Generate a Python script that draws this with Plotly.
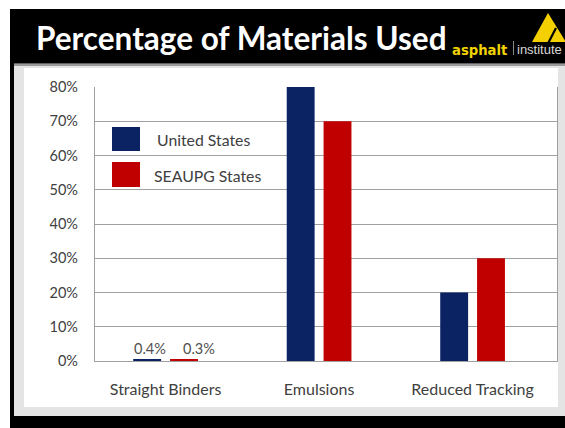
import plotly.graph_objects as go

categories = ["Straight Binders", "Emulsions", "Reduced Tracking"]
us_values = [0.4, 80, 20]
seaupg_values = [0.3, 70, 30]
series_names = ["United States", "SEAUPG States"]
tick_vals = [0, 10, 20, 30, 40, 50, 60, 70, 80]
tick_text = [f"{v}%" for v in tick_vals]
label_category = "Straight Binders"

NAVY = "#0b2362"
RED = "#c00000"
W, H = 565, 428
L, R, T, B = 95, 8, 87, 67
PW, PH = W - L - R, H - T - B


def px(x):
    return (x - L) / PW


def py(y):
    return (H - B - y) / PH


def rect(x0, y0, x1, y1, color, layer="below", line=None):
    return dict(type="rect", xref="paper", yref="paper",
                x0=px(x0), x1=px(x1), y0=py(y1), y1=py(y0),
                fillcolor=color, line=line or dict(width=0), layer=layer)


fig = go.Figure()
fig.add_trace(go.Bar(x=categories, y=us_values, name=series_names[0],
                     marker=dict(color=NAVY, line=dict(width=0)), showlegend=False))
fig.add_trace(go.Bar(x=categories, y=seaupg_values, name=series_names[1],
                     marker=dict(color=RED, line=dict(width=0)), showlegend=False))

shapes = [
    rect(10, 9, 565, 63.5, "black", layer="above"),
    rect(14, 63.5, 565, 416, "#e4e4e4"),
    rect(14, 63.5, 565, 66, "#9a9a9a"),
    rect(24, 68, 558, 407, "white"),
    rect(10, 63, 14, 416, "black", layer="above"),
    rect(10, 416, 565, 428, "black", layer="above"),
    # legend swatches
    rect(112, 127, 140, 151, NAVY, layer="above"),
    rect(112, 162, 140, 187, RED, layer="above"),
    # logo
    dict(type="path", xref="paper", yref="paper",
         path=f"M {px(532)},{py(42)} L {px(548)},{py(13)} L {px(566)},{py(42)} Z",
         fillcolor="#f5d000", line=dict(width=0), layer="above"),
    dict(type="line", xref="paper", yref="paper",
         x0=px(556), y0=py(28), x1=px(548.5), y1=py(42.5),
         line=dict(color="black", width=2.2), layer="above"),
    dict(type="line", xref="paper", yref="paper",
         x0=px(513.5), y0=py(41), x1=px(513.5), y1=py(55),
         line=dict(color="#8a8a8a", width=1), layer="above"),
]

annotations = [
    dict(xref="paper", yref="paper", x=px(34), y=py(38), xanchor="left", yanchor="middle",
         text="Percentage of Materials Used", showarrow=False,
         font=dict(family="Lato", size=31.5, color="white", weight="bold")),
    dict(xref="paper", yref="paper", x=px(450), y=py(51), xanchor="left", yanchor="middle",
         text="<b>asphalt</b>", showarrow=False,
         font=dict(family="DejaVu Sans", size=13.2, color="#f2d200")),
    dict(xref="paper", yref="paper", x=px(515), y=py(49), xanchor="left", yanchor="middle",
         text="institute", showarrow=False,
         font=dict(family="Liberation Sans", size=13, color="#d8d8d8")),
    dict(xref="paper", yref="paper", x=px(155), y=py(139), xanchor="left", yanchor="middle",
         text=series_names[0], showarrow=False,
         font=dict(family="Lato", size=15.8, color="#404040")),
    dict(xref="paper", yref="paper", x=px(152), y=py(175), xanchor="left", yanchor="middle",
         text=series_names[1], showarrow=False,
         font=dict(family="Lato", size=15.8, color="#404040")),
]

idx = categories.index(label_category)
for vals, shift in ((us_values, -16), (seaupg_values, 33)):
    annotations.append(dict(x=label_category, y=vals[idx], xref="x", yref="y",
                            text=f"{vals[idx]}%", showarrow=False, yanchor="bottom",
                            xshift=shift, yshift=1,
                            font=dict(family="Lato", size=14.5, color="#505050")))

fig.update_layout(
    width=W, height=H,
    margin=dict(l=L, r=R, t=T, b=B, pad=0),
    paper_bgcolor="white",
    plot_bgcolor="rgba(0,0,0,0)",
    barmode="group",
    bargap=0.52,
    bargroupgap=0.243,
    shapes=shapes,
    annotations=annotations,
    showlegend=False,
    font=dict(family="Lato", color="#404040"),
)
fig.update_xaxes(range=[-0.46, 2.55], showgrid=False, showline=True, linecolor="#a0a0a0",
                 linewidth=1.3, ticks="", ticklabelstandoff=14,
                 tickfont=dict(family="Lato", size=16, color="#404040"))
fig.update_yaxes(range=[0, 80], tickvals=tick_vals, ticktext=tick_text, showgrid=True,
                 gridcolor="#a0a0a0", gridwidth=1.3, showline=True, linecolor="#a0a0a0",
                 linewidth=1.3, mirror=True, zeroline=False, ticks="", ticklabelstandoff=13,
                 tickfont=dict(family="Lato", size=14.5, color="#404040"))

fig.write_html("out.html", config={"displayModeBar": False},
               post_script="document.body.style.margin='0';")
